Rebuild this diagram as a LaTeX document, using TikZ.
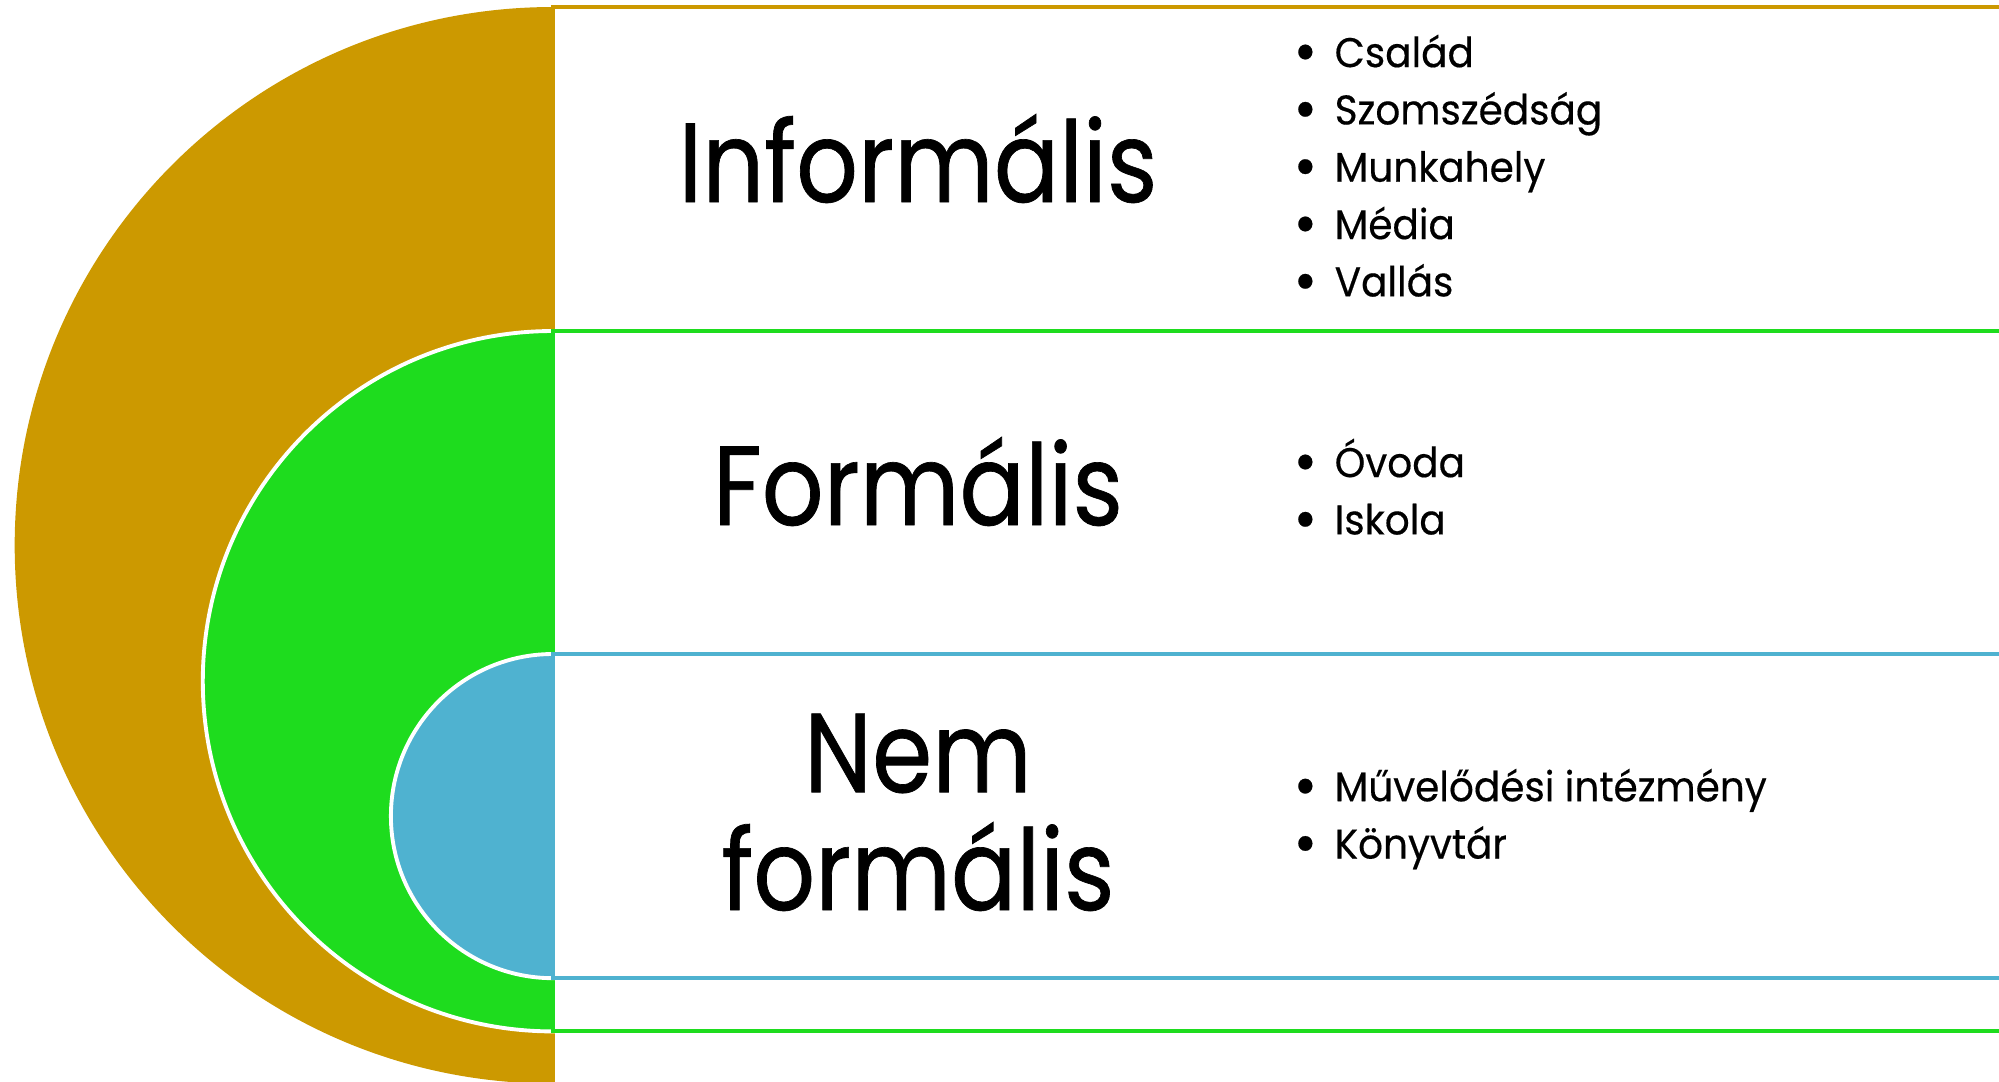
\documentclass[tikz,border=0pt]{standalone}
\usepackage{fontspec}
\setmainfont{Poppins}[FakeStretch=0.94, FakeBold=0.35]
\newfontfamily\titlefont{Poppins}[FakeStretch=0.86, FakeBold=0.6]
\definecolor{goldC}{RGB}{204,153,0}
\definecolor{greenC}{RGB}{30,220,30}
\definecolor{blueC}{RGB}{79,178,208}
\tikzstyle{half} = [draw=white, line width=1.1pt]
\tikzstyle{band} = [line width=1.1pt]
\tikzstyle{title} = [inner sep=0pt, anchor=base, align=center, font=\titlefont\fontsize{32}{33.5}\selectfont]
\tikzstyle{items} = [inner sep=0pt, anchor=west, align=left, font=\fontsize{11.8}{16.3}\selectfont]
\newcommand{\itm}[1]{\makebox[0.41cm][l]{\raisebox{-0.12em}{\scalebox{1.45}{\textbullet}}}#1}

\begin{document}
\begin{tikzpicture}[x=0.01cm, y=-0.01cm]
\useasboundingbox (0,0) rectangle (1999,1081);
\clip (0,0) rectangle (1999,1081);
\fill[goldC] (553,7) arc[start angle=90, end angle=270, radius=5.38cm] -- cycle;
\draw[band, goldC] (553,7) rectangle (2100,1087);
\filldraw[half, fill=greenC] (553,331) arc[start angle=90, end angle=270, radius=3.5cm] -- cycle;
\draw[band, greenC] (553,331) rectangle (2100,1031);
\filldraw[half, fill=blueC] (553,654) arc[start angle=90, end angle=270, radius=1.62cm] -- cycle;
\draw[band, blueC] (553,654) rectangle (2100,978);

\node[title] (informal) at (918,202) {Informális};
\node[title] (formal) at (918,525) {Formális};
\node[title] (nonformal) at (918,910) {Nem\\formális};

\node[items] (informalList) at (1293,168) {\itm{Család}\\\itm{Szomszédság}\\\itm{Munkahely}\\\itm{Média}\\\itm{Vallás}};
\node[items] (formalList) at (1293,489) {\itm{Óvoda}\\\itm{Iskola}};
\node[items] (nonformalList) at (1293,819) {\itm{Művelődési intézmény}\\\itm{Könyvtár}};
\end{tikzpicture}
\end{document}
